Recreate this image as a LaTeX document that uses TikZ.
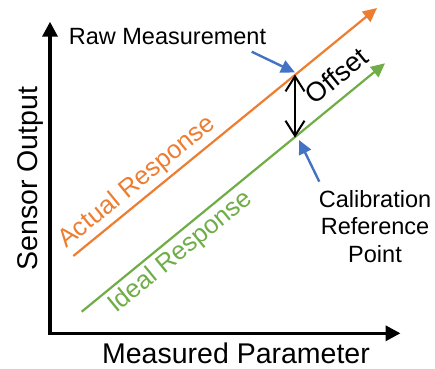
\documentclass[tikz,border=0pt]{standalone}
\usepackage{fontspec}
\setmainfont{Liberation Sans}
\usetikzlibrary{arrows.meta,positioning}
\definecolor{actualcolor}{RGB}{237,125,49}
\definecolor{idealcolor}{RGB}{112,173,71}
\definecolor{pointercolor}{RGB}{68,114,196}
\tikzset{
	axis/.style={
		line width=3.5pt,
		{Triangle[length=15pt,width=15pt]}-{Triangle[length=15pt,width=15pt]}
	},
	response/.style={
		line width=2.2pt,
		-{Triangle[length=14pt,width=13pt]}
	},
	pointer/.style={
		draw=pointercolor,
		line width=2.4pt,
		-{Triangle[length=14pt,width=13pt]}
	},
	offsetarrow/.style={
		line width=2pt,
		{Straight Barb[length=15pt,width=19pt]}-{Straight Barb[length=15pt,width=19pt]}
	},
	axisname/.style={
		font=\fontsize{28.5}{34}\selectfont,
		inner sep=0pt
	},
	note/.style={
		font=\fontsize{23.5}{27.3}\selectfont,
		inner sep=0pt,
		align=center
	},
	linename/.style={
		font=\fontsize{25.6}{30}\selectfont,
		inner sep=0pt,
		rotate=39.2
	},
}

\begin{document}
\begin{tikzpicture}[x=1pt,y=1pt]
	\useasboundingbox (0,0) rectangle (435,368);
	
	% axes
	\coordinate (origin) at (50,34.7);
	\coordinate (ytop) at (50,346.3);
	\coordinate (xend) at (400.5,34.7);
	\draw[axis] (ytop) -- (origin) -- (xend);
	\node[axisname,rotate=90,anchor=base] (yname) at (37,189.5) {Sensor Output};
	\node[axisname,anchor=base] (xname) at (236,5) {Measured Parameter};
	
	% responses
	\coordinate (actualstart) at (73.3,112);
	\coordinate (actualend) at (377,360);
	\coordinate (idealstart) at (81.7,56.3);
	\coordinate (idealend) at (385,304.7);
	\draw[response,actualcolor] (actualstart) -- (actualend);
	\draw[response,idealcolor] (idealstart) -- (idealend);
	\node[linename,text=actualcolor] (actualname) at (137.5,185.5) {Actual Response};
	\node[linename,text=idealcolor] (idealname) at (180.8,115.5) {Ideal Response};
	
	% offset
	\coordinate (raw) at (295,293.5);
	\coordinate (cal) at (295,230.4);
	\draw[offsetarrow] (raw) -- (cal);
	\node[linename,font=\fontsize{27}{32}\selectfont] (offsetname) at (336.5,292.5) {Offset};
	
	% pointers
	\node[note,anchor=base] (rawname) at (167.5,324) {Raw Measurement};
	\node[note] (calname) at (375,141.5) {Calibration\\Reference\\Point};
	\coordinate (rawfrom) at (251.7,316.3);
	\coordinate (calfrom) at (319.3,186.3);
	\draw[pointer] (rawfrom) -- ([yshift=2pt]raw);
	\draw[pointer] (calfrom) -- ([xshift=4pt,yshift=-2.4pt]cal);
\end{tikzpicture}
\end{document}
